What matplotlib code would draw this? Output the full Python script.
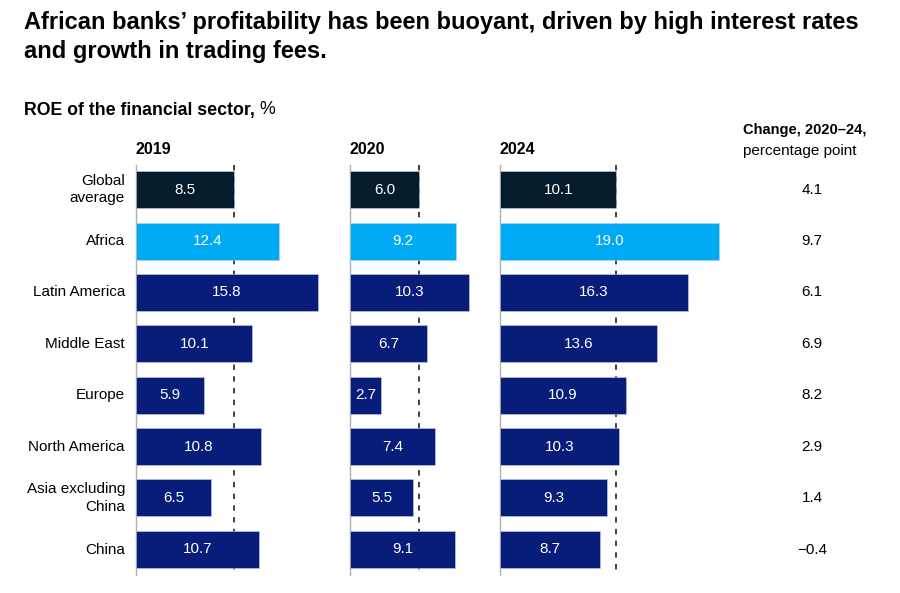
import matplotlib.pyplot as plt

regions = ["Global\naverage", "Africa", "Latin America", "Middle East", "Europe",
           "North America", "Asia excluding\nChina", "China"]
years = ["2019", "2020", "2024"]
roe_2019 = [8.5, 12.4, 15.8, 10.1, 5.9, 10.8, 6.5, 10.7]
roe_2020 = [6.0, 9.2, 10.3, 6.7, 2.7, 7.4, 5.5, 9.1]
roe_2024 = [10.1, 19.0, 16.3, 13.6, 10.9, 10.3, 9.3, 8.7]
change = ["4.1", "9.7", "6.1", "6.9", "8.2", "2.9", "1.4", "\u22120.4"]

W, H = 900, 593
PX_PER_UNIT = 11.53
NAVY = "#071d79"
colors = ["#051c2c", "#00a9f4"] + [NAVY] * 6

plt.rcParams["font.family"] = ["Liberation Sans", "DejaVu Sans"]

fig = plt.figure(figsize=(W / 100, H / 100), dpi=100)


def px_axes(left, top, width, height):
    return fig.add_axes([left / W, 1 - (top + height) / H, width / W, height / H])


fig.text(24 / W, 1 - 11 / H, "African banks\u2019 profitability has been buoyant, driven by high interest rates\nand growth in trading fees.",
         fontsize=17, fontweight="bold", va="top", ha="left", linespacing=1.32, color="#000000")
sub = fig.text(24 / W, 1 - 110 / H, "ROE of the financial sector,", fontsize=12.8,
               fontweight="bold", va="center", ha="left")
fig.canvas.draw()
bb = sub.get_window_extent()
fig.text((bb.x1 + 4) / W, 1 - 110 / H, "%", fontsize=12.8, va="center", ha="left")

panel_left = [136, 350, 500]
panel_width = [200, 140, 230]
top, height = 165, 410
n = len(regions)
ypos = list(range(n))

for left, width, year, vals in zip(panel_left, panel_width, years, [roe_2019, roe_2020, roe_2024]):
    ax = px_axes(left, top, width, height)
    ax.set_xlim(0, width / PX_PER_UNIT)
    ax.set_ylim(7.5, -0.48)
    ax.barh(ypos, vals, height=0.72, color=colors, edgecolor="#c8cde8", linewidth=0.4, zorder=3)
    avg = vals[0]
    ax.vlines(avg, -0.48, 7.55, colors="#333333", linestyles=(0, (3, 3.5)), linewidth=1.3, zorder=2)
    for y, v in zip(ypos, vals):
        ax.text(v / 2, y, f"{v:.1f}", color="white", ha="center", va="center", fontsize=11, zorder=4)
    for s in ["top", "right", "bottom"]:
        ax.spines[s].set_visible(False)
    ax.spines["left"].set_color("#b0b0b0")
    ax.spines["left"].set_linewidth(1)
    ax.set_xticks([])
    ax.set_yticks([])
    ax.set_facecolor("none")
    fig.text(left / W, 1 - 150 / H, year, fontsize=11.5, fontweight="bold", ha="left", va="center")

# row labels and change column
row_top = 189.5
row_step = 51.43
for i, (lab, ch) in enumerate(zip(regions, change)):
    yc = 1 - (row_top + i * row_step) / H
    fig.text(125 / W, yc, lab, fontsize=11, ha="right", va="center", linespacing=1.3)
    fig.text(812 / W, yc, ch, fontsize=11, ha="center", va="center")

fig.text(743 / W, 1 - 130 / H, "Change, 2020\u201324,", fontsize=10.5, fontweight="bold", ha="left", va="center")
fig.text(743 / W, 1 - 151 / H, "percentage point", fontsize=11, ha="left", va="center")

fig.savefig("out.png", dpi=100)
